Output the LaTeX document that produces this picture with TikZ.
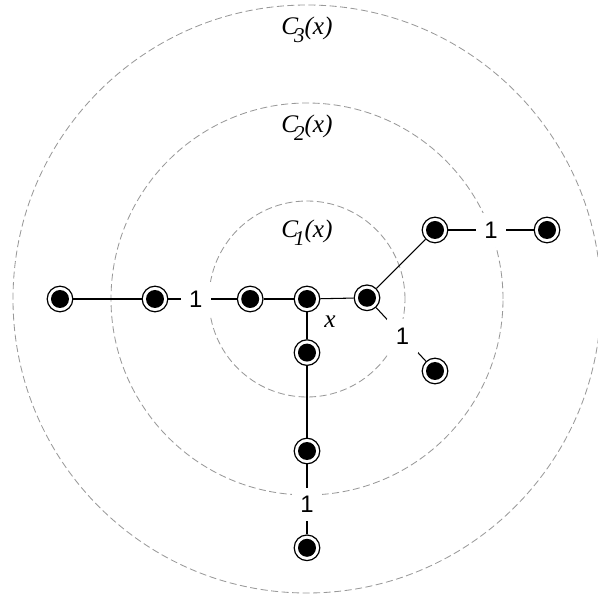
\documentclass[tikz,border=0pt]{standalone}
\usepackage{fontspec}
\setmainfont{Liberation Serif}
\newfontfamily\zahlfont{Liberation Sans}
\usepackage{xcolor}
\usepackage{tikz}
\definecolor{kreisgrau}{gray}{0.6}
\newcommand{\Knoten}[3]{\node[knoten] (#1) at (#2,#3) {};}
\newcommand{\Kreislabel}[1]{C\kern-3pt\raisebox{-5.5pt}{\fontsize{15}{15}\selectfont #1}(x)}

\begin{document}
\begin{tikzpicture}[line width=0.75pt,
  knoten/.style={circle,draw,line width=0.85pt,fill=white,minimum size=0.64cm,inner sep=0pt,
    path picture={\fill[black] (path picture bounding box.center) circle (0.225);}},
  eins/.style={fill=white,inner sep=6pt,font=\zahlfont\fontsize{17}{17}\selectfont},
  kreis/.style={draw=kreisgrau,line width=0.6pt,dash pattern=on 5pt off 2.5pt},
  kreistext/.style={anchor=base,font=\itshape\fontsize{18}{21}\selectfont}]
  \useasboundingbox (-7.675,-7.6) rectangle (7.25,7.475);
  % Kreise C1, C2, C3 um x
  \draw[kreis] (0,0) circle (2.45);
  \draw[kreis] (0,0) circle (4.9);
  \draw[kreis] (0,0) circle (7.35);
  \node[kreistext] (c1) at (0,1.525) {\Kreislabel{1}};
  \node[kreistext] (c2) at (0,4.15) {\Kreislabel{2}};
  \node[kreistext] (c3) at (0,6.6) {\Kreislabel{3}};
  % Knoten
  \Knoten{x}{0}{0}
  \Knoten{l1}{-1.42}{0}
  \Knoten{l2}{-3.8}{0}
  \Knoten{l3}{-6.175}{0}
  \Knoten{r1}{1.5}{0.03}
  \Knoten{ro}{3.2}{1.725}
  \Knoten{rr}{6.0}{1.725}
  \Knoten{ru}{3.2}{-1.8}
  \Knoten{u1}{0}{-1.34}
  \Knoten{u2}{0}{-3.8}
  \Knoten{u3}{0}{-6.22}
  \node[kreistext] (xl) at (0.575,-0.725) {x};
  % Kanten
  \draw (l3) -- (l2);
  \draw (l2) -- node[eins,pos=0.4] (e1) {1} (l1);
  \draw (l1) -- (x);
  \draw (x) -- (r1);
  \draw (r1) -- (ro);
  \draw (ro) -- node[eins] (e2) {1} (rr);
  \draw (r1) -- node[eins,pos=0.53] (e3) {1} (ru);
  \draw (x) -- (u1);
  \draw (u1) -- (u2);
  \draw (u2) -- node[eins,pos=0.57] (e4) {1} (u3);
\end{tikzpicture}
\end{document}
